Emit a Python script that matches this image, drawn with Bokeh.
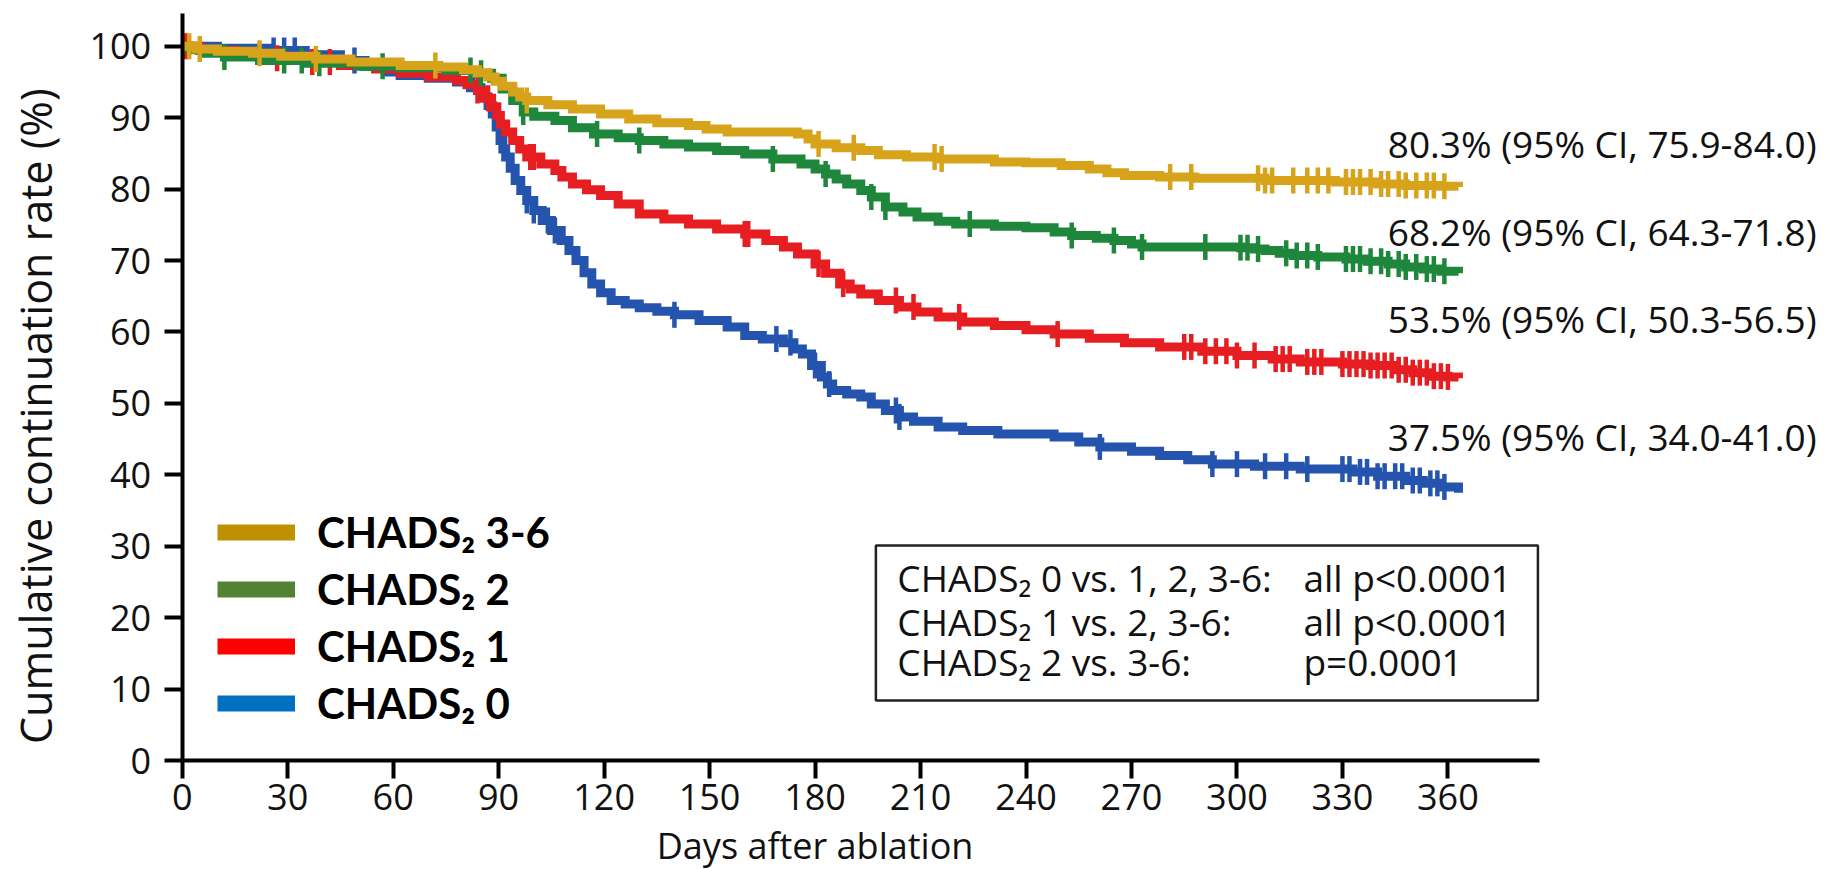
import numpy as np
from bokeh.plotting import figure
from bokeh.models import Range1d, FixedTicker, Label, BoxAnnotation, Legend, LegendItem
from bokeh.embed import file_html
from bokeh.resources import INLINE

# ---------------- data ----------------
x_ticks = [0, 30, 60, 90, 120, 150, 180, 210, 240, 270, 300, 330, 360]
y_ticks = [0, 10, 20, 30, 40, 50, 60, 70, 80, 90, 100]

series_names = ["CHADS\u2082 3-6", "CHADS\u2082 2", "CHADS\u2082 1", "CHADS\u2082 0"]

gold_days = [0, 4, 10, 20, 28, 38, 48, 62, 73, 80, 84, 87, 89, 91, 94, 96, 98, 104, 111, 119,
             127, 135, 144, 149, 155, 175, 178, 180, 186, 193, 198, 206, 215, 231, 240, 250, 258, 263, 268, 278,
             288, 308, 328, 340, 348, 358, 363]
gold_pct = [100, 99.6, 99.3, 99.0, 98.6, 98.2, 97.8, 97.3, 97.1, 96.7, 96.3, 95.7, 95.1, 94.4, 93.6, 92.9, 92.4, 91.8, 91.2, 90.5,
            89.8, 89.3, 88.9, 88.4, 88.0, 87.7, 87.0, 86.3, 85.8, 85.4, 84.8, 84.5, 84.2, 83.8, 83.7, 83.3, 82.8, 82.3, 81.9, 81.7,
            81.5, 81.2, 81.0, 80.7, 80.5, 80.4, 80.3]
gold_censor = [2, 5, 22, 38, 72, 98, 181, 191, 214, 216, 281, 287, 306, 308, 310, 316, 320, 323, 326, 331,
               333, 335, 338, 341, 343, 346, 348, 351, 354, 356, 359]

green_days = [0, 2, 6, 12, 22, 35, 50, 62, 75, 84, 88, 91, 94, 97, 100, 106, 111, 117, 124, 130,
              137, 144, 152, 160, 168, 176, 180, 183, 186, 189, 193, 196, 200, 205, 209, 215, 220, 231, 240, 248,
              253, 260, 265, 270, 273, 301, 305, 308, 312, 316, 323, 331, 337, 343, 348, 353, 358, 363]
green_pct = [100, 99.5, 99.0, 98.5, 98.0, 97.6, 97.2, 97.0, 96.6, 96.2, 95.5, 94.0, 92.4, 90.8, 90.2, 89.6, 88.6, 87.7, 87.2, 86.8,
             86.3, 85.9, 85.4, 84.9, 84.2, 83.5, 82.8, 82.1, 81.4, 80.7, 79.8, 78.9, 77.5, 76.8, 76.1, 75.5, 75.1, 74.8, 74.6, 74.0,
             73.5, 73.1, 72.8, 72.3, 71.9, 71.8, 71.6, 71.4, 71.0, 70.7, 70.5, 70.2, 69.9, 69.5, 69.1, 68.8, 68.5, 68.2]
green_censor = [12, 29, 34, 39, 57, 82, 85, 97, 118, 130, 168, 183, 196, 200, 224, 253, 265, 273, 291, 301,
                303, 306, 314, 317, 320, 323, 331, 333, 335, 338, 341, 343, 346, 348, 351, 354, 356, 359]

red_days = [0, 5, 15, 25, 35, 45, 55, 62, 70, 78, 81, 84, 86, 88, 89.5, 90.5, 92, 94, 96, 98,
            102, 106, 108, 111, 115, 119, 124, 130, 137, 144, 152, 160, 166, 171, 175, 180, 183, 187, 190, 193,
            198, 204, 209, 215, 222, 231, 240, 248, 258, 268, 278, 290, 300, 310, 318, 330, 338, 345, 350, 355,
            360, 363]
red_pct = [100, 99.4, 98.8, 98.3, 97.8, 97.3, 96.8, 96.2, 95.7, 95.2, 94.6, 93.8, 92.7, 91.5, 90.3, 89.1, 88.0, 86.8, 85.6, 84.5,
           83.5, 82.6, 81.7, 80.7, 79.9, 79.1, 77.9, 76.5, 75.8, 75.1, 74.4, 73.7, 72.8, 71.9, 70.9, 69.5, 68.2, 66.7, 66.0, 65.3,
           64.4, 63.5, 62.8, 62.1, 61.4, 60.9, 60.3, 59.7, 59.1, 58.5, 57.9, 57.3, 56.7, 56.2, 55.8, 55.5, 55.3, 54.7, 54.3, 53.8,
           53.7, 53.5]
red_censor = [1, 27, 37, 42, 84, 87, 90, 99, 100, 160, 161, 181, 188, 203, 208, 221, 249, 285, 287, 291,
              294, 297, 300, 305, 311, 313, 315, 320, 322, 324, 330, 332, 334, 336, 338, 340, 342, 344, 346, 348,
              350, 352, 354, 356, 358, 360]

blue_days = [0, 10, 25, 35, 45, 52, 58, 62, 70, 78, 82, 85, 87, 88.2, 89.3, 90.4, 91.2, 92, 93.3, 94.7,
             96.3, 98, 100, 102.4, 105, 107.8, 110, 112, 114.3, 116.5, 119, 122, 126, 130, 135, 140, 147, 155, 160, 165,
             171, 174, 176.4, 179, 181.8, 183.5, 185, 189, 193, 196, 200, 204, 208, 215, 222, 232, 248, 255, 261, 270,
             278, 286, 293, 305, 318, 333, 340, 348, 353, 358, 363]
blue_pct = [100, 99.7, 99.4, 98.8, 98.0, 97.2, 96.4, 95.9, 95.5, 95.0, 94.2, 92.9, 91.7, 90.5, 88.7, 86.8, 85.6, 84.5, 82.9, 81.2,
            79.8, 78.4, 77.0, 75.6, 74.2, 72.8, 71.4, 70.0, 68.3, 66.7, 65.5, 64.4, 63.9, 63.4, 62.9, 62.4, 61.6, 60.7, 59.5, 59.0,
            58.5, 57.6, 56.9, 55.3, 53.7, 52.7, 51.8, 51.3, 50.9, 49.9, 49.0, 48.1, 47.5, 46.7, 46.2, 45.7, 45.3, 44.6, 43.9, 43.3,
            42.7, 42.1, 41.5, 41.2, 40.8, 40.4, 39.8, 39.2, 38.8, 38.3, 37.5]
blue_censor = [26, 29, 32, 49, 98, 100, 104, 106, 140, 169, 173, 180, 184, 203, 204, 261, 293, 300, 308, 314,
               320, 330, 332, 335, 337, 340, 342, 345, 347, 350, 352, 355, 357, 359]

end_labels = ["80.3% (95% CI, 75.9-84.0)", "68.2% (95% CI, 64.3-71.8)",
              "53.5% (95% CI, 50.3-56.5)", "37.5% (95% CI, 34.0-41.0)"]
p_rows = [("CHADS\u2082 0 vs. 1, 2, 3-6:", "all p<0.0001"),
          ("CHADS\u2082 1 vs. 2, 3-6:", "all p<0.0001"),
          ("CHADS\u2082 2 vs. 3-6:", "p=0.0001")]
x_title = "Days after ablation"
y_title = "Cumulative continuation rate (%)"

curve_colors = ["#D6A31A", "#1F873B", "#E61E22", "#2554AE"]
legend_colors = ["#BF9000", "#548235", "#FF0000", "#0070C0"]

# ---------------- figure ----------------
# the plotting frame covers the whole canvas; axes sit at fixed data locations
p = figure(width=1831, height=869, x_range=Range1d(-51.68, 469.1), y_range=Range1d(-15.26, 106.4),
           output_backend="svg", toolbar_location=None,
           min_border_left=0, min_border_right=0, min_border_top=0, min_border_bottom=0)
p.outline_line_color = None
p.xgrid.visible = False
p.ygrid.visible = False
p.background_fill_color = "white"
p.border_fill_color = "white"

p.xaxis.ticker = FixedTicker(ticks=x_ticks)
p.yaxis.ticker = FixedTicker(ticks=y_ticks)
p.xaxis.fixed_location = 0
p.yaxis.fixed_location = 0
p.xaxis.bounds = (0, 386)
p.yaxis.bounds = (0, 104.6)
for ax in (p.xaxis[0], p.yaxis[0]):
    ax.axis_line_width = 4
    ax.axis_line_color = "black"
    ax.major_tick_line_width = 4
    ax.major_tick_line_color = "black"
    ax.major_tick_out = 18
    ax.major_tick_in = 0
    ax.minor_tick_out = 0
    ax.minor_tick_in = 0
    ax.major_label_text_font = "Open Sans"
    ax.major_label_text_font_size = "36px"
    ax.major_label_text_color = "#111111"
p.xaxis.major_label_standoff = 5
p.yaxis.major_label_standoff = 13

series = [
    (gold_days, gold_pct, gold_censor),
    (green_days, green_pct, green_censor),
    (red_days, red_pct, red_censor),
    (blue_days, blue_pct, blue_censor),
]


def value_at(days, pct, t):
    d = np.asarray(days, dtype=float)
    v = np.asarray(pct, dtype=float)
    idx = np.searchsorted(d, np.asarray(t, dtype=float), side="right") - 1
    return v[np.clip(idx, 0, len(v) - 1)]


# draw blue first, gold last (on top)
for i in [3, 2, 1, 0]:
    days, pct, cens = series[i]
    col = curve_colors[i]
    p.step(days, pct, mode="after", line_color=col, line_width=9, line_join="miter")
    p.scatter(cens, value_at(days, pct, cens), marker="dash", angle=np.pi / 2,
              size=26, line_color=col, line_width=4.5)

# legend (proxy line renderers in the legend colours; NaN data so nothing is drawn in the plot)
items = []
for name, col in zip(series_names, legend_colors):
    r = p.line(x=[np.nan], y=[np.nan], line_color=col, line_width=16)
    items.append(LegendItem(label=name, renderers=[r]))
legend = Legend(items=items, location=(217, 141), orientation="vertical",
                glyph_width=78, glyph_height=50, label_height=50, label_standoff=22,
                spacing=7, padding=0, margin=0,
                border_line_alpha=0, background_fill_alpha=0,
                label_text_font="Lato", label_text_font_style="bold",
                label_text_font_size="42px", label_text_color="black")
p.add_layout(legend)

# axis titles
p.add_layout(Label(x=-41.8, y=48.2, text=y_title, angle=np.pi / 2,
                   text_align="center", text_baseline="alphabetic",
                   text_font="Open Sans", text_font_size="43px", text_color="#111111"))
p.add_layout(Label(x=180, y=-11.9, text=x_title,
                   text_align="center", text_baseline="alphabetic",
                   text_font="Open Sans", text_font_size="36px", text_color="#111111"))

# end-of-curve estimates
end_label_y = [86.4, 74.1, 61.9, 45.4]
for txt, yv in zip(end_labels, end_label_y):
    p.add_layout(Label(x=342.9, y=yv, text=txt, text_align="left", text_baseline="alphabetic",
                       text_font="Open Sans", text_font_size="37px", text_color="#111111"))

# p-value box
p.add_layout(BoxAnnotation(left=197.3, right=385.6, bottom=8.4, top=30.1,
                           fill_alpha=0, line_color="#222222", line_alpha=1, line_width=2.5))
row_y = [25.6, 19.5, 13.8]
for (a, b), yv in zip(p_rows, row_y):
    p.add_layout(Label(x=203.4, y=yv, text=a, text_align="left", text_baseline="alphabetic",
                       text_font="Open Sans", text_font_size="37px", text_color="#111111"))
    p.add_layout(Label(x=318.9, y=yv, text=b, text_align="left", text_baseline="alphabetic",
                       text_font="Open Sans", text_font_size="37px", text_color="#111111"))

open("out.html", "w").write(file_html(p, INLINE))
